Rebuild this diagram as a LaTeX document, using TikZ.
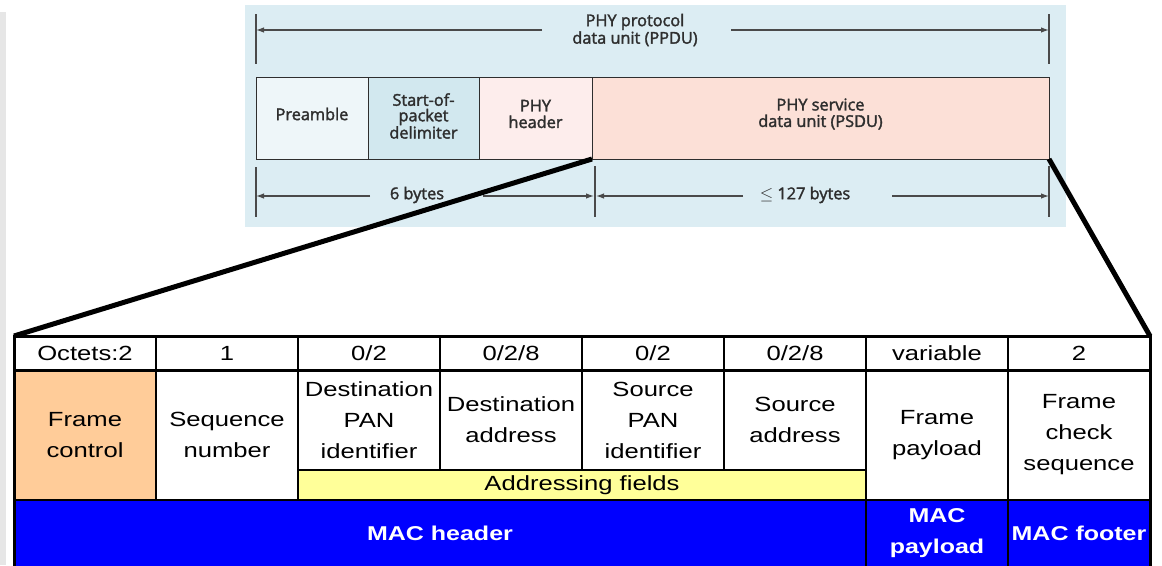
\documentclass[tikz,border=0pt]{standalone}
\usepackage{fontspec}
\setmainfont{Liberation Sans}
\newfontfamily\tabfont[FakeStretch=1.25]{Liberation Sans}
\newfontfamily\upfont[FakeBold=2]{Open Sans}
\usetikzlibrary{arrows.meta}
\definecolor{panelbg}{HTML}{DCEDF3}
\definecolor{prefill}{HTML}{EEF6F9}
\definecolor{spdfill}{HTML}{D2E8EF}
\definecolor{phyfill}{HTML}{FDEDEC}
\definecolor{psdufill}{HTML}{FCE0D7}
\definecolor{uptext}{HTML}{2E2E2E}
\definecolor{dimline}{HTML}{4A4A4A}
\definecolor{fcfill}{HTML}{FFCC99}
\definecolor{addrfill}{HTML}{FFFF99}
\definecolor{macblue}{HTML}{0000FF}
\definecolor{stripgray}{HTML}{E6E6E6}
\begin{document}
\begin{tikzpicture}[x=1pt,y=-1pt,
  ubox/.style={draw=uptext, line width=1pt, inner sep=0pt, outer sep=0pt, anchor=north west,
    minimum height=82pt},
  ulabel/.style={inner sep=0pt, align=center, text=uptext, font=\upfont\fontsize{16.3}{16.5}\selectfont},
  dimtick/.style={draw=dimline, line width=1.2pt},
  dimarrow/.style={draw=dimline, line width=1.2pt, -{Latex[length=8pt,width=5.5pt]}},
  cell/.style={draw=black, line width=1.5pt, inner sep=0pt, outer sep=0pt, anchor=north west,
    minimum width=142pt, align=center, text=black, font=\tabfont\fontsize{20.5}{31}\selectfont},
  hcell/.style={cell, minimum height=34pt},
  bcell/.style={cell, fill=macblue, text=white, minimum height=67pt, font=\tabfont\bfseries\fontsize{20}{31}\selectfont},
  zoomline/.style={line width=5pt, black}
]
\useasboundingbox (0,0) rectangle (1162,565);
\fill[stripgray] (0,12) rectangle (6,565);

% ---------- upper panel ----------
\fill[panelbg] (245,5) rectangle (1066,227);
\node[ubox, fill=prefill, minimum width=112pt] (pre) at (256,77) {};
\node[ubox, fill=spdfill, minimum width=111pt] (spd) at (368,77) {};
\node[ubox, fill=phyfill, minimum width=113pt] (phyh) at (479,77) {};
\node[ubox, fill=psdufill, minimum width=457pt] (psdu) at (592,77) {};
\node[ulabel] (preL) at ([yshift=4pt]pre.center) {Preamble};
\node[ulabel, font=\upfont\fontsize{16.3}{15.5}\selectfont] (spdL) at ([yshift=2pt]spd.center) {Start-of-\\packet\\delimiter};
\node[ulabel] (phyhL) at ([yshift=4pt]phyh.center) {PHY\\header};
\node[ulabel] (psduL) at ([yshift=4pt]psdu.center) {PHY service\\data unit (PSDU)};

% PPDU dimension
\coordinate (tL1) at (256,14); \coordinate (tL2) at (256,64);
\coordinate (tR1) at (1049,14); \coordinate (tR2) at (1049,64);
\draw[dimtick] (tL1) -- (tL2);
\draw[dimtick] (tR1) -- (tR2);
\node[ulabel, font=\upfont\fontsize{16.3}{17.5}\selectfont] (ppdu) at (635,30) {PHY protocol\\data unit (PPDU)};
\coordinate (pa1) at (542,30); \coordinate (pa2) at (731,30);
\draw[dimarrow] (pa1) -- (tL1 |- pa1);
\draw[dimarrow] (pa2) -- (tR1 |- pa2);

% bytes dimension
\coordinate (bL1) at (256,167); \coordinate (bL2) at (256,217);
\coordinate (bM1) at (595,166); \coordinate (bM2) at (595,217);
\coordinate (bR1) at (1049,166); \coordinate (bR2) at (1049,217);
\draw[dimtick] (bL1) -- (bL2);
\draw[dimtick] (bM1) -- (bM2);
\draw[dimtick] (bR1) -- (bR2);
\node[ulabel] (six) at (417,195) {6 bytes};
\node[ulabel] (s127) at (805,195) {$\le$ 127 bytes};
\coordinate (a1) at (370,196); \coordinate (a2) at (483,196);
\coordinate (a3) at (743,196); \coordinate (a4) at (892,196);
\draw[dimarrow] (a1) -- (bL1 |- a1);
\draw[dimarrow] (a2) -- ([xshift=-1pt]bM1 |- a2);
\draw[dimarrow] (a3) -- ([xshift=1pt]bM1 |- a3);
\draw[dimarrow] (a4) -- (bR1 |- a4);

% ---------- lower table ----------
\node[hcell] (h0) at (14,336) {Octets:2};
\node[hcell] (h1) at (156,336) {1};
\node[hcell] (h2) at (298,336) {0/2};
\node[hcell] (h3) at (440,336) {0/2/8};
\node[hcell] (h4) at (582,336) {0/2};
\node[hcell] (h5) at (724,336) {0/2/8};
\node[hcell] (h6) at (866,336) {variable};
\node[hcell] (h7) at (1008,336) {2};

\node[cell, fill=fcfill, minimum height=130pt] (fc) at (14,370) {Frame\\control};
\node[cell, minimum height=130pt] (seq) at (156,370) {Sequence\\number};
\node[cell, minimum height=100pt] (dpan) at (298,370) {Destination\\PAN\\identifier};
\node[cell, minimum height=100pt] (dadr) at (440,370) {Destination\\address};
\node[cell, minimum height=100pt] (span) at (582,370) {Source\\PAN\\identifier};
\node[cell, minimum height=100pt] (sadr) at (724,370) {Source\\address};
\node[cell, minimum height=130pt] (fpay) at (866,370) {Frame\\payload};
\node[cell, minimum height=130pt] (fcs) at (1008,370) {Frame\\check\\sequence};
\node[cell, fill=addrfill, minimum width=568pt, minimum height=30pt] (addr) at (298,470) {Addressing fields};

\node[bcell, minimum width=852pt] (mach) at (14,500) {MAC header};
\node[bcell] (macp) at (866,500) {MAC\\payload};
\node[bcell] (macf) at (1008,500) {MAC footer};

% thick outer frame and header separator
\node[draw=black, line width=3pt, inner sep=0pt, outer sep=0pt, anchor=north west,
  minimum width=1136pt, minimum height=232pt] (frame) at (14,336) {};
\draw[line width=3pt] (h0.south west) -- (h7.south east);

% zoom lines
\draw[zoomline] (phyh.south east) -- (frame.north west);
\draw[zoomline] (psdu.south east) -- (frame.north east);
\end{tikzpicture}
\end{document}
